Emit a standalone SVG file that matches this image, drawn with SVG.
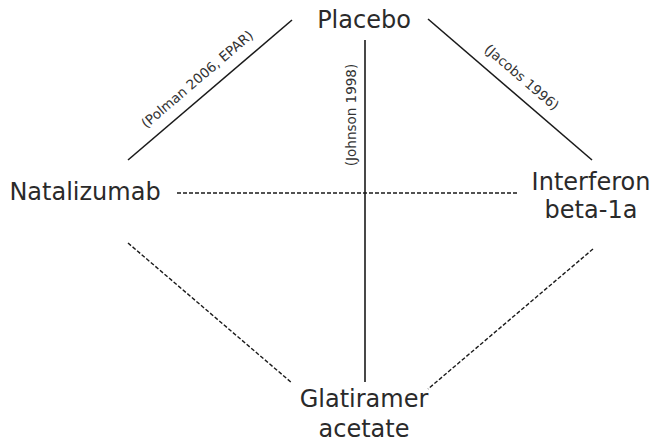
<svg xmlns="http://www.w3.org/2000/svg" width="655" height="445" viewBox="0 0 655 445">
<style>
.node{font-family:"DejaVu Sans","Liberation Sans",sans-serif;font-size:24px;fill:#2a2a2a;text-anchor:middle}
.lbl{font-family:"DejaVu Sans","Liberation Sans",sans-serif;font-size:13.5px;fill:#333;text-anchor:middle}
.solid{stroke:#1a1a1a;stroke-width:1.6;fill:none}
.dash{stroke:#1a1a1a;stroke-width:1.4;fill:none;stroke-dasharray:4 2}
</style>
<rect width="655" height="445" fill="#fff"/>
<g id="connectors">
<line class="solid" x1="292" y1="20" x2="128" y2="160"/>
<line class="solid" x1="428" y1="19" x2="592" y2="160"/>
<line class="solid" x1="365" y1="40" x2="365" y2="382"/>
<line class="dash" x1="177" y1="193" x2="519" y2="193"/>
<line class="dash" x1="128" y1="243" x2="292" y2="383"/>
<line class="dash" x1="593" y1="249" x2="428" y2="389"/>
<text class="lbl" transform="translate(197,79) rotate(-40.5)" y="5">(Polman 2006, EPAR)</text>
<text class="lbl" transform="translate(522,77) rotate(40.7)" y="5">(Jacobs 1996)</text>
<text class="lbl" transform="translate(351,115) rotate(-90)" y="5">(Johnson 1998)</text>
</g>
<g id="placebo"><text class="node" x="364" y="28">Placebo</text></g>
<g id="natalizumab"><text class="node" x="85" y="200">Natalizumab</text></g>
<g id="interferon"><text class="node" x="591" y="190">Interferon</text><text class="node" x="591" y="218">beta-1a</text></g>
<g id="glatiramer"><text class="node" x="364" y="407">Glatiramer</text><text class="node" x="364" y="437">acetate</text></g>
</svg>
